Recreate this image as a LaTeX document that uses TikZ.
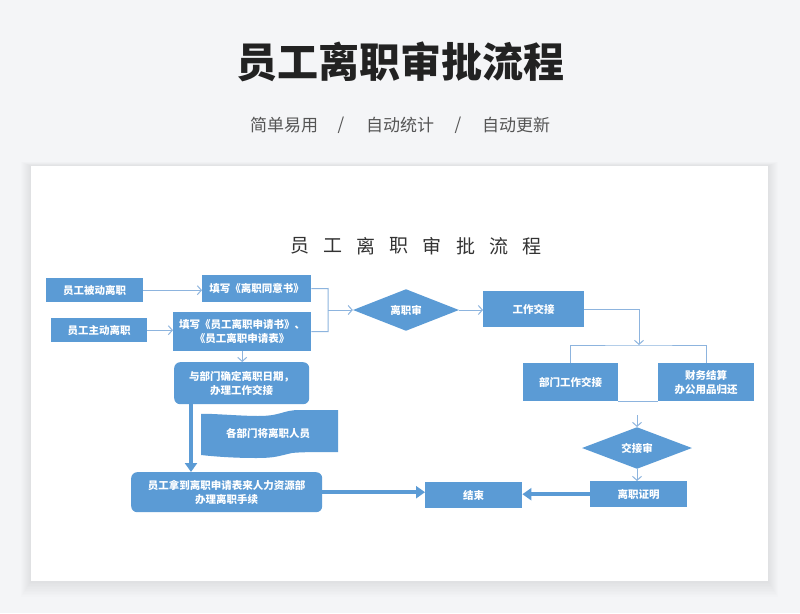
\documentclass[tikz,border=0pt]{standalone}
\usepackage{fontspec}
\setmainfont{Noto Sans CJK SC}
\usetikzlibrary{shapes.geometric,arrows.meta}
\definecolor{bg}{HTML}{F4F5F7}
\definecolor{boxblue}{HTML}{5B9BD5}
\definecolor{lineblue}{HTML}{8DB4DE}
\definecolor{titlec}{HTML}{222222}
\definecolor{subc}{HTML}{555555}
\definecolor{innerc}{HTML}{333333}
\tikzset{
  box/.style={fill=boxblue, draw=none, text=white, font=\bfseries\fontsize{10.5}{14}\selectfont, align=center, inner sep=0pt, anchor=north west},
  rbox/.style={box, rounded corners=6pt},
  dia/.style={diamond, fill=boxblue, draw=none, text=white, font=\bfseries\fontsize{10.5}{14}\selectfont, inner sep=0pt},
  thinline/.style={draw=lineblue, line width=1pt},
  thinarrow/.style={thinline, -{Straight Barb[length=4pt,width=9pt]}},
  thickarrow/.style={draw=boxblue, line width=4pt, -{Triangle[length=9pt,width=12pt]}},
}
\begin{document}
\begin{tikzpicture}[x=1pt,y=-1pt]
\useasboundingbox (0,0) rectangle (800,613);
\fill[bg] (0,0) rectangle (800,613);
% soft card shadow
\foreach \i in {1,...,10}{
  \fill[black, opacity=0.008] (31-\i,166-0.4*\i) rectangle (768+\i,581+1.6*\i);
}
\fill[white] (31,166) rectangle (768,581);

% headings
\node[font=\bfseries\fontsize{41}{41}\selectfont, text=titlec] (title) at (400,62) {员工离职审批流程};
\node[font=\fontsize{17}{17}\selectfont, text=subc] (s1) at (284,125) {简单易用};
\node[font=\fontsize{17}{17}\selectfont, text=subc] (sl1) at (341,125) {/};
\node[font=\fontsize{17}{17}\selectfont, text=subc] (s2) at (400,125) {自动统计};
\node[font=\fontsize{17}{17}\selectfont, text=subc] (sl2) at (458,125) {/};
\node[font=\fontsize{17}{17}\selectfont, text=subc] (s3) at (516,125) {自动更新};

% inner title
\foreach \c [count=\i from 0] in {员,工,离,职,审,批,流,程}{
  \node[font=\fontsize{19}{19}\selectfont, text=innerc] (it\i) at (300+33.1*\i,246) {\c};
}

% boxes
\node[box, minimum width=97pt, minimum height=24pt] (b1) at (46,278) {员工被动离职};
\node[box, minimum width=109pt, minimum height=27pt] (f1) at (202,275) {填写《离职同意书》};
\node[box, minimum width=96pt, minimum height=24pt] (b2) at (51,318) {员工主动离职};
\node[box, minimum width=138pt, minimum height=39pt] (f2) at (173,312) {填写《员工离职申请书》、\\《员工离职申请表》};
\node[rbox, minimum width=135pt, minimum height=42pt] (meet) at (174,362) {与部门确定离职日期，\\办理工作交接};
\node[rbox, minimum width=191pt, minimum height=40pt] (hr) at (131,472) {员工拿到离职申请表来人力资源部\\办理离职手续};
\node[dia, minimum width=106pt, minimum height=31pt] (d1) at (406,310) {离职审};
\node[box, minimum width=101pt, minimum height=36pt] (w1) at (483,291) {工作交接};
\node[box, minimum width=95pt, minimum height=38pt] (dep) at (523,363) {部门工作交接};
\node[box, minimum width=96pt, minimum height=38pt] (fin) at (658,363) {财务结算\\办公用品归还};
\node[dia, minimum width=110pt, minimum height=29pt] (d2) at (637,448) {交接审};
\node[box, minimum width=97pt, minimum height=26pt] (cert) at (590,481) {离职证明};
\node[box, minimum width=97pt, minimum height=26pt] (end) at (425,482) {结束};

% wave shape
\fill[boxblue] (201,414) .. controls (206,413) and (240,416) .. (258,416)
  .. controls (282,416) and (282,410) .. (300,410) -- (338,410) -- (338,452)
  .. controls (318,452) and (300,452) .. (292,453)
  .. controls (278,456) and (276,458) .. (256,458)
  .. controls (230,458) and (210,456) .. (201,455) -- cycle;
\node[font=\bfseries\fontsize{10.5}{14}\selectfont, text=white] (wave) at (268,434) {各部门将离职人员};

% connectors
\draw[thinarrow] (b1.east) -- (b1.east -| f1.west);
\draw[thinarrow] (b2.east) -- (b2.east -| f2.west);
\draw[thinline] (f1.east) -- (328,288.5) coordinate (brt) -- (brt |- f2.east) -- (f2.east);
\coordinate (brm) at (328,310);
\draw[thinarrow] (brm) -- (d1.west);
\draw[thinarrow] (d1.east) -- (d1.east -| w1.west);
\coordinate (split) at (639,345);
\draw[thinarrow] (w1.east) -| (split);
\draw[thinline] (dep.north) |- (split) -| (fin.north);
\draw[thinline] (dep.south east) -- (fin.south west);
\coordinate (join) at (637,415);
\draw[thinarrow] (join) -- (d2.north);
\draw[thinarrow] (d2.south) -- (d2.south |- cert.north);
\draw[thinarrow] (f2.south) -- (f2.south |- meet.north);
\draw[thickarrow] ([xshift=17pt]meet.south west) -- ([xshift=17pt]meet.south west |- hr.north);
\draw[thickarrow] (hr.east) -- (hr.east -| end.west);
\draw[thickarrow] (cert.west) -- (cert.west -| end.east);
\end{tikzpicture}
\end{document}
